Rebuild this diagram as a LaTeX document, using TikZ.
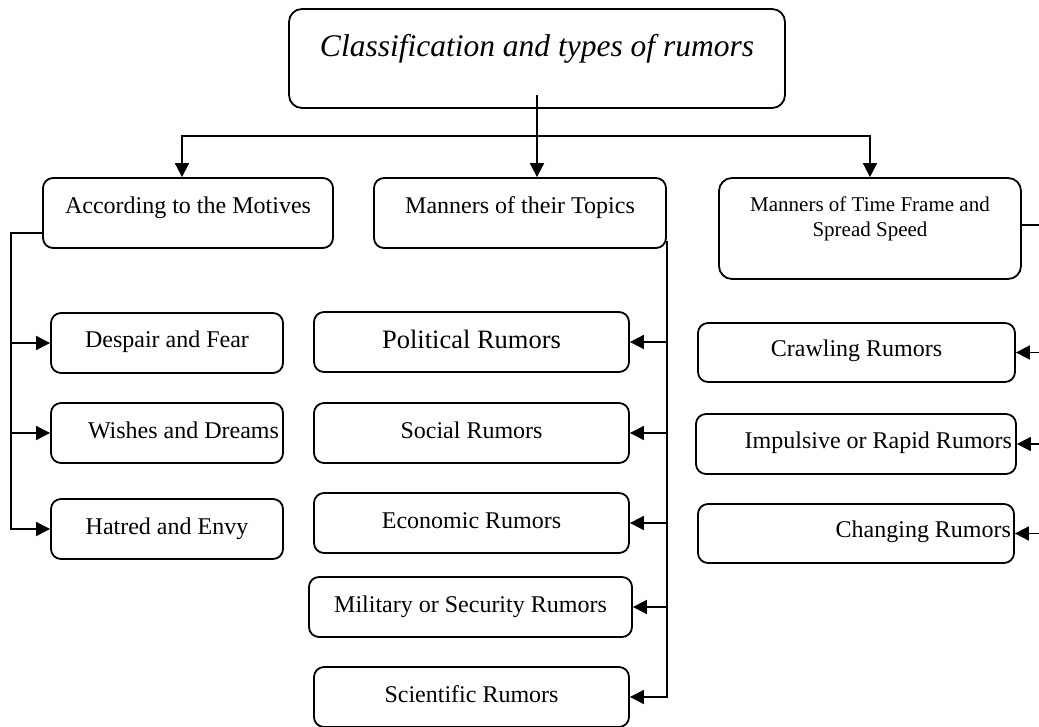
\documentclass[tikz,border=0pt]{standalone}
\usepackage{fontspec}
\setmainfont{Liberation Serif}
\usetikzlibrary{arrows.meta,calc}

\tikzset{
	box/.style={draw, line width=1.8pt, rounded corners=10pt, inner sep=0pt, minimum height=60pt,
		font=\fontsize{24}{28}\selectfont, text height=17pt, text depth=7pt},
	rightbox/.style={box, inner xsep=4pt, text width=#1, align=flush right},
	link/.style={line width=1.8pt},
	arr/.style={line width=1.8pt, -{Triangle[length=14pt,width=14pt]}},
}

\begin{document}
\begin{tikzpicture}[x=1pt, y=-1pt]
	%%%%% START %%%%%
	\useasboundingbox (0,0) rectangle (1039,727);
	\clip (0,0) rectangle (1039,727);

	\node[box, minimum width=496pt, minimum height=99pt, rounded corners=13pt, font=\fontsize{31.5}{36}\selectfont\itshape,
		text height=21.7pt, text depth=24.7pt] (title) at (537, 58.5) {Classification and types of rumors};

	\node[box, minimum width=290pt, minimum height=70pt, text depth=16.8pt] (motives) at (188, 213) {According to the Motives};
	\node[box, minimum width=292pt, minimum height=70pt, text depth=16.8pt] (topics) at (520, 213) {Manners of their Topics};
	\node[box, minimum width=302pt, minimum height=101pt, rounded corners=13pt, font=\fontsize{21}{25}\selectfont, align=center,
		text height=39.7pt, text depth=22.7pt] (speed) at (870, 228.5) {Manners of Time Frame and\\Spread Speed};

	% motives
	\node[box, minimum width=232pt] (despair) at (167, 343) {Despair and Fear};
	\node[rightbox=224pt] (wishes) at (167, 433) {Wishes and Dreams};
	\node[box, minimum width=232pt] (hatred) at (167, 529) {Hatred and Envy};

	% topics
	\node[box, minimum width=315pt, font=\fontsize{26.5}{31}\selectfont, text height=18.5pt, text depth=6pt] (political) at (471.5, 342) {Political Rumors};
	\node[box, minimum width=315pt] (social) at (471.5, 433) {Social Rumors};
	\node[box, minimum width=315pt] (economic) at (471.5, 523) {Economic Rumors};
	\node[box, minimum width=323pt] (military) at (470.5, 607) {Military or Security Rumors};
	\node[box, minimum width=315pt] (scientific) at (471.5, 697) {Scientific Rumors};

	% time frame
	\node[box, minimum width=317pt, minimum height=59pt, text depth=8.5pt] (crawling) at (856.5, 352.5) {Crawling Rumors};
	\node[rightbox=312pt, text depth=8pt] (impulsive) at (856, 444) {Impulsive or Rapid Rumors};
	\node[rightbox=310pt, inner xsep=3pt, minimum height=59pt, text depth=9pt] (changing) at (856, 533.5) {Changing Rumors};

	% connectors
	\coordinate (split) at ($(title.center)+(0,36.5)$);
	\coordinate (bus) at ($(split)+(0,41)$);
	\draw[arr] (split) -- (split |- topics.north);
	\draw[arr] (bus) -| ([xshift=-6pt]motives.north);
	\draw[arr] (bus) -| (speed.north);

	\coordinate (ltop) at ($(motives.west)+(-31,20)$);
	\draw[arr] ($(motives.west)+(0,20)$) -- (ltop) |- (hatred.west);
	\foreach \n in {despair, wishes} \draw[arr] (ltop |- \n) -- (\n.west);

	\coordinate (mtop) at ($(topics.south east)+(0,-8)$);
	\draw[arr] (mtop) |- (scientific.east);
	\foreach \n in {political, social, economic, military} \draw[arr] (mtop |- \n) -- (\n.east);

	\coordinate (rbus) at ($(speed.east)+(24,-3.5)$);
	\draw[link] ($(speed.east)+(0,-3.5)$) -- (rbus) -- (rbus |- changing);
	\foreach \n in {crawling, impulsive, changing} \draw[arr] (rbus |- \n) -- (\n.east);
	%%%%% END %%%%%
\end{tikzpicture}
\end{document}
